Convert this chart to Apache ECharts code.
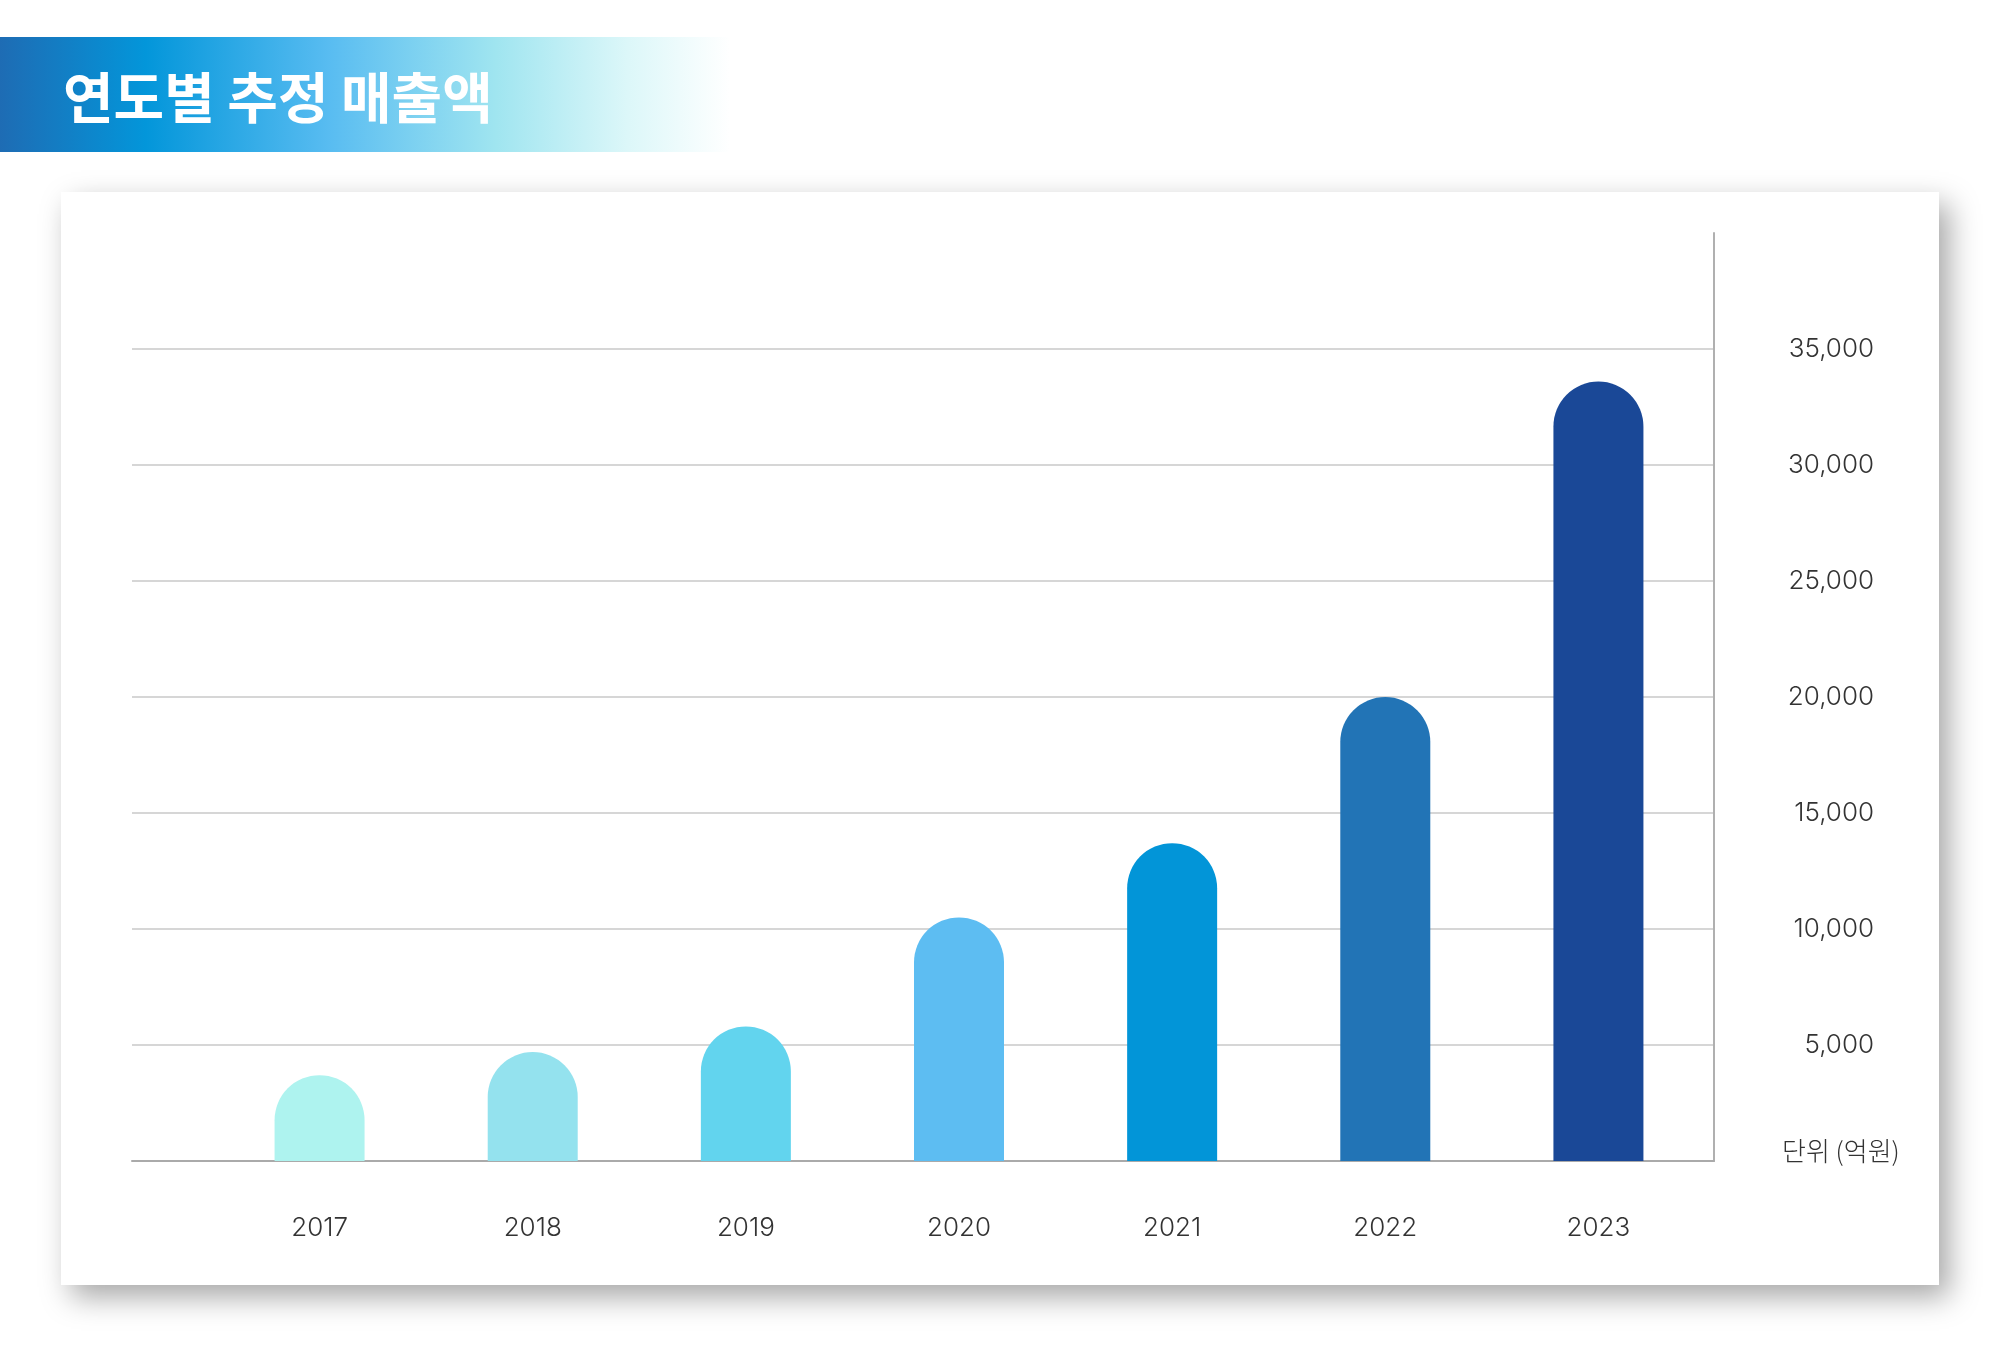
<!DOCTYPE html>
<html>
<head>
<meta charset="utf-8">
<script src="https://cdn.jsdelivr.net/npm/echarts@6/dist/echarts.min.js"></script>
<style>
html,body{margin:0;padding:0;background:#fff;}
#chart{width:2000px;height:1350px;}
</style>
</head>
<body>
<div id="chart"></div>
<script>
const titleText = '연도별 추정 매출액';
const unitText = '단위 (억원)';
const years = ['2017', '2018', '2019', '2020', '2021', '2022', '2023'];
const sales = [3700, 4700, 5800, 10500, 13700, 20000, 33600];
const barColors = ['#aef3ef', '#94e2ee', '#62d4ee', '#5dbdf2', '#0295d8', '#2274b6', '#1a4897'];
const yMin = 0, yMax = 40000, yStep = 5000;

const chart = echarts.init(document.getElementById('chart'));
const font = 'Inter, Roboto, "Noto Sans CJK KR", sans-serif';

chart.setOption({
  backgroundColor: '#ffffff',
  animation: false,
  title: [
    {
      text: titleText, left: 58, top: 92, textVerticalAlign: 'middle',
      textStyle: { color: '#ffffff', fontSize: 55, fontWeight: 'bold', fontFamily: '"Noto Sans CJK KR", sans-serif' }
    },
    {
      text: unitText, left: 1777, top: 1133,
      textStyle: { color: '#333333', fontSize: 26, fontWeight: 300, fontFamily: '"Noto Sans CJK KR", sans-serif' }
    }
  ],
  graphic: [
    {
      type: 'rect', z: -10, silent: true,
      shape: { x: 61, y: 192, width: 1878, height: 1093 },
      style: { fill: '#ffffff', shadowBlur: 28, shadowOffsetX: 10, shadowOffsetY: 12, shadowColor: 'rgba(0,0,0,0.35)' }
    },
    {
      type: 'rect', z: -10, silent: true,
      shape: { x: 0, y: 37, width: 730, height: 115 },
      style: {
        fill: new echarts.graphic.LinearGradient(0, 0, 1, 0, [
          { offset: 0, color: '#1e6cb4' },
          { offset: 0.2, color: '#0396da' },
          { offset: 0.45, color: '#58bcf1' },
          { offset: 0.68, color: '#a0e5f0' },
          { offset: 0.86, color: '#dcf7f9' },
          { offset: 1, color: '#ffffff' }
        ])
      }
    }
  ],
  grid: [
    { left: 132, right: 286, top: 233, bottom: 189 },
    { left: 213, right: 295, top: 233, bottom: 189 }
  ],
  xAxis: [
    {
      gridIndex: 0, type: 'category', data: years,
      axisLine: { show: true, lineStyle: { color: '#aaaaaa', width: 2 } },
      axisTick: { show: false }, axisLabel: { show: false }, splitLine: { show: false }
    },
    {
      gridIndex: 1, type: 'category', data: years,
      axisLine: { show: false }, axisTick: { show: false },
      axisLabel: { show: true, margin: 54, fontSize: 26, fontWeight: 300, color: '#333333', fontFamily: font }
    }
  ],
  yAxis: [
    {
      gridIndex: 0, type: 'value', position: 'right', min: yMin, max: yMax, interval: yStep,
      axisLine: { show: true, lineStyle: { color: '#b0b0b0', width: 2 } },
      axisTick: { show: false },
      splitLine: { show: true, showMinLine: false, showMaxLine: false, lineStyle: { color: '#d6d6d6', width: 2 } },
      axisLabel: {
        show: true, align: 'right', margin: 160, fontSize: 26, fontWeight: 300, color: '#333333', fontFamily: font,
        showMinLabel: false, showMaxLabel: false,
        formatter: v => v.toLocaleString('en-US')
      }
    },
    {
      gridIndex: 1, type: 'value', min: yMin, max: yMax, interval: yStep,
      axisLine: { show: false }, axisTick: { show: false }, axisLabel: { show: false }, splitLine: { show: false }
    }
  ],
  series: [
    {
      type: 'bar', xAxisIndex: 1, yAxisIndex: 1, barWidth: 90,
      data: sales.map((v, i) => ({ value: v, itemStyle: { color: barColors[i], borderRadius: [45, 45, 0, 0] } }))
    }
  ]
});
</script>
</body>
</html>
